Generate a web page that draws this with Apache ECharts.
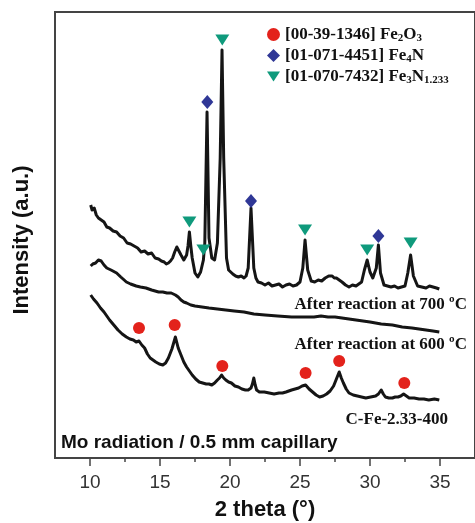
<!DOCTYPE html>
<html>
<head>
<meta charset="utf-8">
<script src="https://cdn.jsdelivr.net/npm/echarts@6/dist/echarts.min.js"></script>
<style>html,body{margin:0;padding:0;background:#fff;}#c{width:475px;height:523px;}</style>
</head>
<body>
<div id="c"></div>
<script>
// 2-theta (deg), intensity (a.u., offset stacked)
var curve700 = [[10.05,253],[10.15,248],[10.3,250],[10.45,243],[10.6,240],[10.8,238],[11.0,236],[11.2,231],[11.4,230],[11.65,227],[11.9,226],[12.15,222],[12.4,220],[12.65,215],[12.9,214],[13.15,212],[13.4,210],[13.65,206],[13.9,207],[14.15,204],[14.4,205],[14.65,200],[14.9,199],[15.1,197],[15.3,196],[15.45,194],[15.6,195],[15.75,197],[15.9,200],[16.05,206],[16.2,211],[16.35,207],[16.5,203],[16.7,198],[16.9,203],[17.0,212],[17.1,226],[17.2,212],[17.3,200],[17.5,185],[17.7,181],[17.9,186],[18.1,198],[18.2,215],[18.36,346],[18.5,220],[18.7,200],[18.9,198],[19.1,215],[19.3,300],[19.43,408],[19.55,300],[19.75,200],[19.9,188],[20.05,186],[20.2,184],[20.4,182],[20.6,181],[20.8,182],[21.0,180],[21.15,182],[21.3,190],[21.5,250],[21.7,190],[21.85,180],[22.0,176],[22.25,175],[22.5,173],[22.75,175],[23.0,172],[23.25,173],[23.5,174],[23.75,171],[24.0,173],[24.25,174],[24.5,172],[24.75,173],[25.0,176],[25.2,190],[25.36,218],[25.55,188],[25.8,177],[26.05,176],[26.3,178],[26.55,177],[26.8,180],[27.05,182],[27.3,182],[27.45,180],[27.6,180],[27.8,178],[28.0,176],[28.25,173],[28.5,171],[28.75,173],[29.0,172],[29.2,174],[29.4,176],[29.6,188],[29.8,198],[30.0,186],[30.2,180],[30.45,190],[30.6,213],[30.75,185],[31.0,173],[31.25,172],[31.5,171],[31.75,172],[32.0,170],[32.25,171],[32.5,172],[32.7,185],[32.9,203],[33.1,182],[33.4,172],[33.7,171],[34.0,170],[34.25,172],[34.5,171],[34.75,170],[34.95,169]];
var curve600 = [[10.05,192],[10.2,194],[10.4,195],[10.6,198],[10.8,197],[11.0,193],[11.2,190],[11.5,188],[11.9,185],[12.2,181],[12.6,176],[12.9,174],[13.3,172],[13.6,171],[14.0,170],[14.4,168],[14.9,166],[15.2,166],[15.5,165],[15.8,165],[16.1,163],[16.3,161],[16.5,158],[16.7,156],[16.9,155],[17.2,153],[17.5,152],[18.0,151],[18.5,150],[19.1,149],[19.7,148],[20.3,147],[21.0,146],[21.7,144],[22.5,143],[23.4,142],[24.4,141],[25.2,141],[26.0,141],[26.5,142],[27.0,141],[27.5,141],[28.0,140],[28.5,139],[29.0,138],[29.5,137],[30.0,136],[30.8,134],[31.6,133],[32.3,131],[33.0,130],[33.5,129],[34.0,128],[34.5,127],[34.95,126]];
var curve400 = [[10.05,163],[10.25,159],[10.5,155],[10.75,150],[11.0,146],[11.2,142],[11.4,138],[11.7,133],[12.0,128],[12.3,124],[12.6,121],[12.85,119],[13.1,118],[13.3,116],[13.5,117],[13.7,113],[13.9,110],[14.1,104],[14.3,100],[14.5,98],[14.7,96],[14.95,94],[15.2,93],[15.4,95],[15.6,100],[15.85,109],[16.1,121],[16.3,110],[16.5,103],[16.7,96],[16.9,91],[17.1,87],[17.3,83],[17.55,79],[17.8,76],[18.05,75],[18.3,74],[18.5,74],[18.7,73],[18.9,75],[19.1,78],[19.25,80],[19.4,83],[19.55,80],[19.7,78],[19.9,76],[20.1,75],[20.35,72],[20.6,71],[20.85,69],[21.1,68],[21.3,68],[21.5,70],[21.6,74],[21.7,80],[21.8,73],[21.9,68],[22.1,66],[22.45,66],[22.8,65],[23.15,64],[23.5,65],[23.75,65],[24.0,66],[24.2,67],[24.4,68],[24.65,69],[24.9,70],[25.15,72],[25.4,73],[25.65,69],[25.9,66],[26.15,63],[26.4,61],[26.65,62],[26.9,64],[27.15,67],[27.4,72],[27.6,79],[27.8,86],[27.95,80],[28.1,75],[28.3,69],[28.5,65],[28.8,63],[29.1,62],[29.4,61],[29.7,60],[30.05,61],[30.4,62],[30.6,64],[30.8,68],[30.95,64],[31.1,61],[31.35,60],[31.6,60],[31.8,61],[32.0,61],[32.2,62],[32.4,64],[32.6,62],[32.8,60],[33.15,60],[33.5,59],[33.85,59],[34.2,58],[34.6,59],[34.95,58]];
var markFe2O3 = [[13.5,130],[16.05,133],[19.45,92],[25.4,85],[27.8,97],[32.45,75]];
var markFe4N = [[18.38,356],[21.5,257],[30.6,222]];
var markFe3N = [[17.1,236],[18.1,208],[19.45,418],[25.36,228],[29.8,208],[32.9,215]];
var majorTicks = [10,15,20,25,30,35];
var minorTicks = [12.5,17.5,22.5,27.5,32.5];
var legendNames = ['[00-39-1346] Fe2O3','[01-071-4451] Fe4N','[01-070-7432] Fe3N1.233'];
var legendRich = {
  '[00-39-1346] Fe2O3': '{t|[00-39-1346] Fe}{s|2}{t|O}{s|3}',
  '[01-071-4451] Fe4N': '{t|[01-071-4451] Fe}{s|4}{t|N}',
  '[01-070-7432] Fe3N1.233': '{t|[01-070-7432] Fe}{s|3}{t|N}{s|1.233}'
};
var labels = [
  {text:'After reaction at 700 ºC', x:467, y:305},
  {text:'After reaction at 600 ºC', x:467, y:345},
  {text:'C-Fe-2.33-400', x:448, y:420}
];

var chart = echarts.init(document.getElementById('c'));
var serif = '"Liberation Serif","Times New Roman",serif';
var sans = '"Liberation Sans",Arial,sans-serif';
var triPath = 'path://M0,0 L14,0 L7,11 Z';
function line(d){return {type:'line',data:d,showSymbol:false,symbol:'none',silent:true,lineStyle:{color:'#151515',width:3,join:'round'},z:2};}
var graphics = labels.map(function(l){return {type:'text',x:l.x,y:l.y,style:{text:l.text,x:0,y:0,align:'right',verticalAlign:'middle',font:'bold 17px '+serif,fill:'#111'}};});
graphics.push({type:'text',x:61,y:443,style:{text:'Mo radiation / 0.5 mm capillary',align:'left',verticalAlign:'middle',font:'bold 19px '+sans,fill:'#111'}});
graphics.push({type:'text',x:22,y:240,rotation:Math.PI/2,style:{text:'Intensity (a.u.)',align:'center',verticalAlign:'middle',font:'bold 22px '+sans,fill:'#111'}});
chart.setOption({
  animation:false,
  backgroundColor:'#fff',
  grid:{left:55,top:12,right:0,bottom:65,containLabel:false,outerBoundsMode:'none',show:true,borderColor:'#444',borderWidth:2,backgroundColor:'transparent'},
  legend:{
    orient:'vertical',left:262,top:21,itemWidth:13,itemHeight:13,itemGap:3,
    data:[{name:legendNames[0],icon:'circle'},{name:legendNames[1],icon:'diamond'},{name:legendNames[2],icon:triPath}],
    formatter:function(n){return legendRich[n];},
    textStyle:{rich:{t:{fontFamily:serif,fontWeight:'bold',fontSize:17,color:'#111'},s:{fontFamily:serif,fontWeight:'bold',fontSize:11,color:'#111',verticalAlign:'bottom',padding:[8,0,0,0]}}}
  },
  xAxis:[{
    type:'value',min:7.5,max:37.5,
    axisLine:{show:true,lineStyle:{color:'#444',width:2}},
    axisTick:{show:true,length:8,lineStyle:{color:'#444',width:1.5},customValues:majorTicks},
    axisLabel:{show:true,customValues:majorTicks,margin:15,fontFamily:sans,fontSize:19,color:'#333'},
    splitLine:{show:false},
    name:'2 theta (°)',nameLocation:'middle',nameGap:41,
    nameTextStyle:{fontFamily:sans,fontWeight:'bold',fontSize:22,color:'#111'}
  },{
    type:'value',min:7.5,max:37.5,position:'bottom',
    axisLine:{show:false},
    axisTick:{show:true,length:4,lineStyle:{color:'#444',width:1.5},customValues:minorTicks},
    axisLabel:{show:false},splitLine:{show:false}
  }],
  yAxis:{type:'value',min:0,max:446,axisLine:{show:true,lineStyle:{color:'#444',width:2}},axisTick:{show:false},axisLabel:{show:false},splitLine:{show:false}},
  graphic:graphics,
  series:[
    line(curve700),line(curve600),line(curve400),
    {type:'scatter',name:legendNames[0],data:markFe2O3,symbol:'circle',symbolSize:12,itemStyle:{color:'#e3221b',opacity:1},z:5},
    {type:'scatter',name:legendNames[1],data:markFe4N,symbol:'diamond',symbolSize:[12,14],itemStyle:{color:'#2f3796',opacity:1},z:5},
    {type:'scatter',name:legendNames[2],data:markFe3N,symbol:triPath,symbolSize:[14,11],itemStyle:{color:'#0f9a7c',opacity:1},z:5}
  ]
});
</script>
</body>
</html>
